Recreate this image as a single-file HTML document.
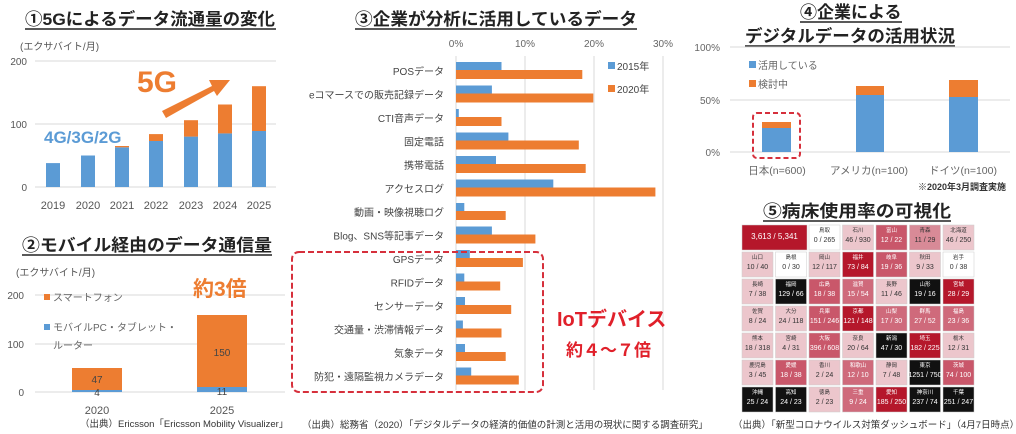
<!DOCTYPE html>
<html><head><meta charset="utf-8"><style>
html,body{margin:0;padding:0;background:#fff;width:1016px;height:434px;overflow:hidden}
svg{display:block;font-family:"Liberation Sans","Noto Sans CJK JP",sans-serif}
</style></head><body>
<svg width="1016" height="434" viewBox="0 0 1016 434" xmlns="http://www.w3.org/2000/svg">
<!-- Chart 1 -->
<text x="25" y="25" font-size="17" font-weight="bold" fill="#222" textLength="250" lengthAdjust="spacingAndGlyphs">①5Gによるデータ流通量の変化</text>
<line x1="25" y1="29" x2="276" y2="29" stroke="#222" stroke-width="1.5"/>
<text x="20" y="50" font-size="10" fill="#555">(エクサバイト/月)</text>
<g stroke="#d9d9d9" stroke-width="1"><line x1="35" y1="61" x2="276" y2="61"/><line x1="35" y1="124" x2="276" y2="124"/><line x1="35" y1="187" x2="276" y2="187"/></g>
<g font-size="10" fill="#555" text-anchor="end"><text x="27" y="65">200</text><text x="27" y="128">100</text><text x="27" y="191">0</text></g>
<g fill="#5b9bd5">
<rect x="46" y="163.1" width="14" height="23.9"/><rect x="81" y="155.5" width="14" height="31.5"/><rect x="115" y="147.3" width="14" height="39.7"/><rect x="149" y="141" width="14" height="46"/><rect x="184" y="136.6" width="14" height="50.4"/><rect x="218" y="133.4" width="14" height="53.6"/><rect x="252" y="131" width="14" height="56"/></g>
<g fill="#ed7d31">
<rect x="115" y="146" width="14" height="1.3"/><rect x="149" y="134.1" width="14" height="6.9"/><rect x="184" y="120.2" width="14" height="16.4"/><rect x="218" y="104.5" width="14" height="28.9"/><rect x="252" y="86.2" width="14" height="44.8"/></g>
<g font-size="11" fill="#555" text-anchor="middle"><text x="53" y="209">2019</text><text x="88" y="209">2020</text><text x="122" y="209">2021</text><text x="156" y="209">2022</text><text x="191" y="209">2023</text><text x="225" y="209">2024</text><text x="259" y="209">2025</text></g>
<text x="137" y="92" font-size="30" font-weight="bold" fill="#ed7d31">5G</text>
<polygon points="162,111 212,86 209,80 230,80 217,96 214,91 166,118" fill="#ed7d31"/>
<text x="44" y="143" font-size="17" font-weight="bold" fill="#5b9bd5">4G/3G/2G</text>
<!-- Chart 2 -->
<text x="22" y="251" font-size="17" font-weight="bold" fill="#222" textLength="250" lengthAdjust="spacingAndGlyphs">②モバイル経由のデータ通信量</text>
<line x1="22" y1="255" x2="272" y2="255" stroke="#222" stroke-width="1.5"/>
<text x="16" y="276" font-size="10" fill="#555">(エクサバイト/月)</text>
<g stroke="#d9d9d9"><line x1="35" y1="295" x2="285" y2="295"/><line x1="35" y1="344" x2="285" y2="344"/><line x1="35" y1="392" x2="285" y2="392"/></g>
<g font-size="10" fill="#555" text-anchor="end"><text x="24" y="299">200</text><text x="24" y="348">100</text><text x="24" y="396">0</text></g>
<rect x="72" y="368" width="50" height="22" fill="#ed7d31"/><rect x="72" y="390" width="50" height="2" fill="#5b9bd5"/>
<rect x="197" y="315" width="50" height="72" fill="#ed7d31"/><rect x="197" y="387" width="50" height="5" fill="#5b9bd5"/>
<g font-size="10" fill="#444" text-anchor="middle"><text x="97" y="383">47</text><text x="97" y="396">4</text><text x="222" y="356">150</text><text x="222" y="395">11</text></g>
<g font-size="11" fill="#555" text-anchor="middle"><text x="97" y="414">2020</text><text x="222" y="414">2025</text></g>
<rect x="44" y="294" width="6" height="6" fill="#ed7d31"/><text x="53" y="301" font-size="10" fill="#666">スマートフォン</text>
<rect x="44" y="324" width="6" height="6" fill="#5b9bd5"/><text x="53" y="331" font-size="10" fill="#666">モバイルPC・タブレット・</text>
<text x="53" y="349" font-size="10" fill="#666">ルーター</text>
<text x="193" y="296" font-size="21" font-weight="bold" fill="#ed7d31">約3倍</text>
<text x="80" y="427" font-size="9.5" fill="#333">（出典）Ericsson「Ericsson Mobility Visualizer」</text>
<!-- Chart 3 -->
<text x="355" y="25" font-size="17" font-weight="bold" fill="#222" textLength="282" lengthAdjust="spacingAndGlyphs">③企業が分析に活用しているデータ</text>
<line x1="355" y1="29" x2="637" y2="29" stroke="#222" stroke-width="1.5"/>
<g stroke="#d9d9d9"><line x1="456" y1="56" x2="456" y2="390"/><line x1="525" y1="56" x2="525" y2="390"/><line x1="594" y1="56" x2="594" y2="390"/><line x1="663" y1="56" x2="663" y2="390"/></g>
<g font-size="10" fill="#666" text-anchor="middle"><text x="456" y="47">0%</text><text x="525" y="47">10%</text><text x="594" y="47">20%</text><text x="663" y="47">30%</text></g>
<g fill="#5b9bd5">
<rect x="456" y="62" width="45.5" height="8"/><rect x="456" y="85.5" width="35.9" height="8"/><rect x="456" y="109" width="2.8" height="8"/><rect x="456" y="132.5" width="52.4" height="8"/><rect x="456" y="156" width="40" height="8"/><rect x="456" y="179.5" width="97.3" height="8"/><rect x="456" y="203" width="8.3" height="8"/><rect x="456" y="226.5" width="35.9" height="8"/><rect x="456" y="250" width="13.8" height="8"/><rect x="456" y="273.5" width="8.3" height="8"/><rect x="456" y="297" width="9" height="8"/><rect x="456" y="320.5" width="6.9" height="8"/><rect x="456" y="344" width="9" height="8"/><rect x="456" y="367.5" width="15.2" height="8"/></g>
<g fill="#ed7d31">
<rect x="456" y="70" width="126.3" height="9"/><rect x="456" y="93.5" width="137.3" height="9"/><rect x="456" y="117" width="45.5" height="9"/><rect x="456" y="140.5" width="122.8" height="9"/><rect x="456" y="164" width="129.7" height="9"/><rect x="456" y="187.5" width="199.4" height="9"/><rect x="456" y="211" width="49.7" height="9"/><rect x="456" y="234.5" width="79.4" height="9"/><rect x="456" y="258" width="66.9" height="9"/><rect x="456" y="281.5" width="44.2" height="9"/><rect x="456" y="305" width="55.2" height="9"/><rect x="456" y="328.5" width="45.5" height="9"/><rect x="456" y="352" width="49.7" height="9"/><rect x="456" y="375.5" width="62.8" height="9"/></g>
<g font-size="10" fill="#444" text-anchor="end">
<text x="444" y="75">POSデータ</text><text x="444" y="98.5">eコマースでの販売記録データ</text><text x="444" y="122">CTI音声データ</text><text x="444" y="145.5">固定電話</text><text x="444" y="169">携帯電話</text><text x="444" y="192.5">アクセスログ</text><text x="444" y="216">動画・映像視聴ログ</text><text x="444" y="239.5">Blog、SNS等記事データ</text><text x="444" y="263">GPSデータ</text><text x="444" y="286.5">RFIDデータ</text><text x="444" y="310">センサーデータ</text><text x="444" y="333.5">交通量・渋滞情報データ</text><text x="444" y="357">気象データ</text><text x="444" y="380.5">防犯・遠隔監視カメラデータ</text></g>
<rect x="608" y="62" width="7" height="7" fill="#5b9bd5"/><text x="617" y="70" font-size="10" fill="#444">2015年</text>
<rect x="608" y="85" width="7" height="7" fill="#ed7d31"/><text x="617" y="93" font-size="10" fill="#444">2020年</text>
<rect x="292" y="252" width="251" height="140" rx="7" fill="none" stroke="#d6303c" stroke-width="2" stroke-dasharray="6,3"/>
<text x="557" y="326" font-size="20" font-weight="bold" fill="#e0202a">IoTデバイス</text>
<text x="566" y="356" font-size="17" font-weight="bold" fill="#e0202a">約４～７倍</text>
<text x="302" y="428" font-size="9.5" fill="#333">（出典）総務省（2020）「デジタルデータの経済的価値の計測と活用の現状に関する調査研究」</text>
<!-- Chart 4 -->
<text x="800" y="18" font-size="17" font-weight="bold" fill="#222">④企業による</text>
<line x1="800" y1="22" x2="902" y2="22" stroke="#222" stroke-width="1.5"/>
<text x="745" y="42" font-size="17" font-weight="bold" fill="#222" textLength="210" lengthAdjust="spacingAndGlyphs">デジタルデータの活用状況</text>
<line x1="745" y1="46" x2="955" y2="46" stroke="#222" stroke-width="1.5"/>
<g stroke="#d9d9d9"><line x1="730" y1="47" x2="1010" y2="47"/><line x1="730" y1="100" x2="1010" y2="100"/><line x1="730" y1="152" x2="1010" y2="152"/></g>
<g font-size="10" fill="#666" text-anchor="end"><text x="720" y="51">100%</text><text x="720" y="104">50%</text><text x="720" y="156">0%</text></g>
<rect x="762" y="128" width="29" height="24" fill="#5b9bd5"/><rect x="762" y="122" width="29" height="6" fill="#ed7d31"/>
<rect x="856" y="95" width="28" height="57" fill="#5b9bd5"/><rect x="856" y="86" width="28" height="9" fill="#ed7d31"/>
<rect x="949" y="97" width="29" height="55" fill="#5b9bd5"/><rect x="949" y="80" width="29" height="17" fill="#ed7d31"/>
<rect x="753" y="113" width="47" height="45" rx="4" fill="none" stroke="#d6303c" stroke-width="2" stroke-dasharray="5,3"/>
<rect x="749" y="61" width="7" height="7" fill="#5b9bd5"/><text x="758" y="69" font-size="10" fill="#666">活用している</text>
<rect x="749" y="80" width="7" height="7" fill="#ed7d31"/><text x="758" y="88" font-size="10" fill="#666">検討中</text>
<g font-size="10.5" fill="#666" text-anchor="middle"><text x="777" y="174">日本(n=600)</text><text x="869" y="174">アメリカ(n=100)</text><text x="963" y="174">ドイツ(n=100)</text></g>
<text x="1006" y="190" font-size="9" font-weight="bold" fill="#333" text-anchor="end">※2020年3月調査実施</text>
<!-- Chart 5 -->
<text x="763" y="217" font-size="17" font-weight="bold" fill="#222" textLength="188" lengthAdjust="spacingAndGlyphs">⑤病床使用率の可視化</text>
<line x1="763" y1="221" x2="951" y2="221" stroke="#222" stroke-width="1.5"/>
<g font-size="5.5" text-anchor="middle" stroke="#ccc" stroke-width="0.5">
<rect x="742" y="225" width="65" height="25" fill="#b5172b"/>
<rect x="809" y="225" width="31" height="25" fill="#fff"/><rect x="842.5" y="225" width="31" height="25" fill="#ecc6cc"/><rect x="876" y="225" width="31" height="25" fill="#c9576a"/><rect x="909.5" y="225" width="31" height="25" fill="#d88a97"/><rect x="943" y="225" width="31" height="25" fill="#ecc6cc"/>
<rect x="742" y="252" width="31" height="25" fill="#ecc6cc"/><rect x="775.5" y="252" width="31" height="25" fill="#fff"/><rect x="809" y="252" width="31" height="25" fill="#ecc6cc"/><rect x="842.5" y="252" width="31" height="25" fill="#b5172b"/><rect x="876" y="252" width="31" height="25" fill="#c9576a"/><rect x="909.5" y="252" width="31" height="25" fill="#ecc6cc"/><rect x="943" y="252" width="31" height="25" fill="#fff"/>
<rect x="742" y="279" width="31" height="25" fill="#ecc6cc"/><rect x="775.5" y="279" width="31" height="25" fill="#111"/><rect x="809" y="279" width="31" height="25" fill="#c9576a"/><rect x="842.5" y="279" width="31" height="25" fill="#cf6a7b"/><rect x="876" y="279" width="31" height="25" fill="#ecc6cc"/><rect x="909.5" y="279" width="31" height="25" fill="#111"/><rect x="943" y="279" width="31" height="25" fill="#b5172b"/>
<rect x="742" y="306" width="31" height="25" fill="#ecc6cc"/><rect x="775.5" y="306" width="31" height="25" fill="#ecc6cc"/><rect x="809" y="306" width="31" height="25" fill="#c9576a"/><rect x="842.5" y="306" width="31" height="25" fill="#b5172b"/><rect x="876" y="306" width="31" height="25" fill="#cf6a7b"/><rect x="909.5" y="306" width="31" height="25" fill="#cf6a7b"/><rect x="943" y="306" width="31" height="25" fill="#cf6a7b"/>
<rect x="742" y="333" width="31" height="25" fill="#ecc6cc"/><rect x="775.5" y="333" width="31" height="25" fill="#ecc6cc"/><rect x="809" y="333" width="31" height="25" fill="#c9576a"/><rect x="842.5" y="333" width="31" height="25" fill="#ecc6cc"/><rect x="876" y="333" width="31" height="25" fill="#111"/><rect x="909.5" y="333" width="31" height="25" fill="#b5172b"/><rect x="943" y="333" width="31" height="25" fill="#ecc6cc"/>
<rect x="742" y="360" width="31" height="25" fill="#ecc6cc"/><rect x="775.5" y="360" width="31" height="25" fill="#c9576a"/><rect x="809" y="360" width="31" height="25" fill="#ecc6cc"/><rect x="842.5" y="360" width="31" height="25" fill="#cf6a7b"/><rect x="876" y="360" width="31" height="25" fill="#ecc6cc"/><rect x="909.5" y="360" width="31" height="25" fill="#111"/><rect x="943" y="360" width="31" height="25" fill="#c9576a"/>
<rect x="742" y="387" width="31" height="25" fill="#111"/><rect x="775.5" y="387" width="31" height="25" fill="#111"/><rect x="809" y="387" width="31" height="25" fill="#ecc6cc"/><rect x="842.5" y="387" width="31" height="25" fill="#cf6a7b"/><rect x="876" y="387" width="31" height="25" fill="#b5172b"/><rect x="909.5" y="387" width="31" height="25" fill="#111"/><rect x="943" y="387" width="31" height="25" fill="#111"/>
</g>
<g font-size="5.5" text-anchor="middle" fill="#333">
<text x="774.5" y="239" font-size="8" fill="#fff">3,613 / 5,341</text>
<g fill="#333"><text x="824.5" y="232">鳥取</text><text x="824.5" y="242" font-size="7">0 / 265</text><text x="858" y="232">石川</text><text x="858" y="242" font-size="7">46 / 930</text><text x="958.5" y="232">北海道</text><text x="958.5" y="242" font-size="7">46 / 250</text><text x="925" y="232">青森</text><text x="925" y="242" font-size="7">11 / 29</text></g>
<g fill="#fff"><text x="891.5" y="232">富山</text><text x="891.5" y="242" font-size="7">12 / 22</text></g>
<text x="757.5" y="259">山口</text><text x="757.5" y="269" font-size="7">10 / 40</text><text x="791" y="259">島根</text><text x="791" y="269" font-size="7">0 / 30</text><text x="824.5" y="259">岡山</text><text x="824.5" y="269" font-size="7">12 / 117</text><text x="925" y="259">秋田</text><text x="925" y="269" font-size="7">9 / 33</text><text x="958.5" y="259">岩手</text><text x="958.5" y="269" font-size="7">0 / 38</text>
<g fill="#fff"><text x="858" y="259">福井</text><text x="858" y="269" font-size="7">73 / 84</text><text x="891.5" y="259">岐阜</text><text x="891.5" y="269" font-size="7">19 / 36</text></g>
<text x="757.5" y="286">長崎</text><text x="757.5" y="296" font-size="7">7 / 38</text><text x="891.5" y="286">長野</text><text x="891.5" y="296" font-size="7">11 / 46</text>
<g fill="#fff"><text x="791" y="286">福岡</text><text x="791" y="296" font-size="7">129 / 66</text><text x="824.5" y="286">広島</text><text x="824.5" y="296" font-size="7">18 / 38</text><text x="858" y="286">滋賀</text><text x="858" y="296" font-size="7">15 / 54</text><text x="925" y="286">山形</text><text x="925" y="296" font-size="7">19 / 16</text><text x="958.5" y="286">宮城</text><text x="958.5" y="296" font-size="7">28 / 29</text></g>
<text x="757.5" y="313">佐賀</text><text x="757.5" y="323" font-size="7">8 / 24</text><text x="791" y="313">大分</text><text x="791" y="323" font-size="7">24 / 118</text>
<g fill="#fff"><text x="824.5" y="313">兵庫</text><text x="824.5" y="323" font-size="7">151 / 246</text><text x="858" y="313">京都</text><text x="858" y="323" font-size="7">121 / 148</text><text x="891.5" y="313">山梨</text><text x="891.5" y="323" font-size="7">17 / 30</text><text x="925" y="313">群馬</text><text x="925" y="323" font-size="7">27 / 52</text><text x="958.5" y="313">福島</text><text x="958.5" y="323" font-size="7">23 / 36</text></g>
<text x="757.5" y="340">熊本</text><text x="757.5" y="350" font-size="7">18 / 318</text><text x="791" y="340">宮崎</text><text x="791" y="350" font-size="7">4 / 31</text><text x="858" y="340">奈良</text><text x="858" y="350" font-size="7">20 / 64</text><text x="958.5" y="340">栃木</text><text x="958.5" y="350" font-size="7">12 / 31</text>
<g fill="#fff"><text x="824.5" y="340">大阪</text><text x="824.5" y="350" font-size="7">396 / 608</text><text x="891.5" y="340">新潟</text><text x="891.5" y="350" font-size="7">47 / 30</text><text x="925" y="340">埼玉</text><text x="925" y="350" font-size="7">182 / 225</text></g>
<text x="757.5" y="367">鹿児島</text><text x="757.5" y="377" font-size="7">3 / 45</text><text x="824.5" y="367">香川</text><text x="824.5" y="377" font-size="7">2 / 24</text><text x="891.5" y="367">静岡</text><text x="891.5" y="377" font-size="7">7 / 48</text>
<g fill="#fff"><text x="791" y="367">愛媛</text><text x="791" y="377" font-size="7">18 / 38</text><text x="858" y="367">和歌山</text><text x="858" y="377" font-size="7">12 / 10</text><text x="925" y="367">東京</text><text x="925" y="377" font-size="7">1251 / 750</text><text x="958.5" y="367">茨城</text><text x="958.5" y="377" font-size="7">74 / 100</text></g>
<text x="824.5" y="394">徳島</text><text x="824.5" y="404" font-size="7">2 / 23</text>
<g fill="#fff"><text x="757.5" y="394">沖縄</text><text x="757.5" y="404" font-size="7">25 / 24</text><text x="791" y="394">高知</text><text x="791" y="404" font-size="7">24 / 23</text><text x="858" y="394">三重</text><text x="858" y="404" font-size="7">9 / 24</text><text x="891.5" y="394">愛知</text><text x="891.5" y="404" font-size="7">185 / 250</text><text x="925" y="394">神奈川</text><text x="925" y="404" font-size="7">237 / 74</text><text x="958.5" y="394">千葉</text><text x="958.5" y="404" font-size="7">251 / 247</text></g>
</g>
<text x="733" y="428" font-size="9.5" fill="#333">（出典）「新型コロナウイルス対策ダッシュボード」（4月7日時点）</text>
</svg>
</body></html>
